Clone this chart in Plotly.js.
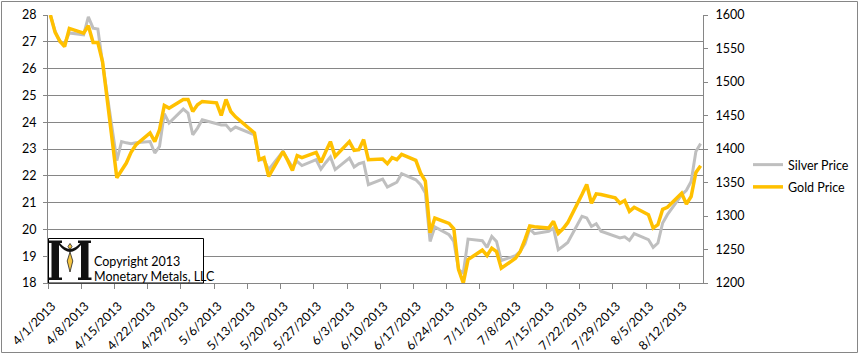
<!DOCTYPE html>
<html>
<head>
<meta charset="utf-8">
<script src="https://cdn.plot.ly/plotly-3.0.1.min.js"></script>
<style>
  html, body { margin: 0; padding: 0; background: #fff; }
  #chart { width: 860px; height: 355px; }
</style>
</head>
<body>
<div id="chart"></div>
<script>
// ---- Data ----
const dates = [
  "2013-04-01","2013-04-02","2013-04-03","2013-04-04","2013-04-05","2013-04-08","2013-04-09","2013-04-10","2013-04-11","2013-04-12",
  "2013-04-15","2013-04-16","2013-04-17","2013-04-18","2013-04-19","2013-04-22","2013-04-23","2013-04-24","2013-04-25","2013-04-26",
  "2013-04-29","2013-04-30",
  "2013-05-01","2013-05-02","2013-05-03","2013-05-06","2013-05-07","2013-05-08","2013-05-09","2013-05-10","2013-05-13","2013-05-14",
  "2013-05-15","2013-05-16","2013-05-17","2013-05-20","2013-05-21","2013-05-22","2013-05-23","2013-05-24","2013-05-27","2013-05-28",
  "2013-05-29","2013-05-30","2013-05-31",
  "2013-06-03","2013-06-04","2013-06-05","2013-06-06","2013-06-07","2013-06-10","2013-06-11","2013-06-12","2013-06-13","2013-06-14",
  "2013-06-17","2013-06-18","2013-06-19","2013-06-20","2013-06-21","2013-06-24","2013-06-25","2013-06-26","2013-06-27","2013-06-28",
  "2013-07-01","2013-07-02","2013-07-03","2013-07-04","2013-07-05","2013-07-08","2013-07-09","2013-07-10","2013-07-11","2013-07-12",
  "2013-07-15","2013-07-16","2013-07-17","2013-07-18","2013-07-19","2013-07-22","2013-07-23","2013-07-24","2013-07-25","2013-07-26",
  "2013-07-29","2013-07-30","2013-07-31",
  "2013-08-01","2013-08-02","2013-08-05","2013-08-06","2013-08-07","2013-08-08","2013-08-09","2013-08-12","2013-08-13","2013-08-14",
  "2013-08-15","2013-08-16"
];
const silverPrice = [
  28.0, 27.39, 27.0, 26.95, 27.33, 27.26, 27.93, 27.51, 27.48, 26.2,
  22.57, 23.28, 23.23, 23.2, 23.23, 23.28, 22.85, 23.1, 24.32, 23.97,
  24.49, 24.34,
  23.53, 23.78, 24.09, 23.94, 23.9, 23.9, 23.69, 23.82, 23.6, 23.53,
  22.6, 22.6, 22.23, 22.91, 22.6, 22.33, 22.54, 22.38, 22.6, 22.25,
  22.49, 22.7, 22.23,
  22.66, 22.33, 22.45, 22.5, 21.67, 21.88, 21.58, 21.67, 21.76, 22.08,
  21.85, 21.67, 21.36, 19.55, 20.09, 19.8, 19.55, 18.5, 18.37, 19.64,
  19.58, 19.33, 19.74, 19.55, 18.84, 19.02, 19.18, 19.47, 20.02, 19.84,
  19.93, 20.05, 19.24, 19.37, 19.51, 20.49, 20.43, 20.11, 20.21, 19.93,
  19.74, 19.68, 19.72,
  19.59, 19.84, 19.62, 19.33, 19.49, 20.24, 20.55, 21.29, 21.46, 21.79,
  22.91, 23.2
];
const goldPrice = [
  1600, 1574, 1561, 1553, 1580, 1573, 1584, 1559, 1559, 1530,
  1357, 1369, 1379, 1395, 1406, 1424, 1411, 1429, 1465, 1461,
  1474, 1474,
  1456, 1466, 1471, 1469, 1450, 1474, 1456, 1448, 1429, 1424,
  1384, 1387, 1359, 1396, 1383, 1368, 1390, 1387, 1395, 1380,
  1396, 1411, 1389,
  1411, 1398, 1399, 1414, 1384, 1385, 1378, 1387, 1384, 1392,
  1383, 1364, 1352, 1275, 1297, 1289, 1281, 1220, 1200, 1235,
  1249, 1241, 1252, 1247, 1222, 1237, 1247, 1265, 1285, 1284,
  1282, 1292, 1274, 1281, 1290, 1332, 1347, 1319, 1333, 1332,
  1327, 1319, 1323,
  1307, 1313, 1302, 1282, 1287, 1310, 1313, 1334, 1318, 1329,
  1365, 1375
];
const seriesNames = ["Silver Price", "Gold Price"];
const copyrightLines = ["Copyright 2013", "Monetary Metals, LLC"];

// ---- Layout helpers ----
const M = { l: 48, r: 157, t: 15, b: 72 };
const PW = 860 - M.l - M.r, PH = 355 - M.t - M.b;
const px = x => (x - M.l) / PW;
const py = y => (355 - M.b - y) / PH;
function path(pts) {
  return pts.map(p => {
    const c = p[0]; const nums = p.slice(1);
    const out = [];
    for (let i = 0; i < nums.length; i += 2) out.push(px(nums[i]).toFixed(5) + ',' + py(nums[i+1]).toFixed(5));
    return c + out.join(' ');
  }).join(' ') + ' Z';
}

const xMid = dates.map(d => d + ' 12:00');
const font = 'Lato, "Open Sans", "Liberation Sans", sans-serif';
const grey = '#868686';

const traces = [
  { x: xMid, y: silverPrice, name: seriesNames[0], type: 'scatter', mode: 'lines',
    line: { color: '#BFBFBF', width: 3 }, yaxis: 'y', legendgroup: 'a' },
  { x: xMid, y: goldPrice, name: seriesNames[1], type: 'scatter', mode: 'lines',
    line: { color: '#FFC000', width: 3.5 }, yaxis: 'y2', legendgroup: 'b' }
];

const blk = { type: 'path', xref: 'paper', yref: 'paper', layer: 'above', fillcolor: '#111', line: { width: 0 } };
const shapes = [
  { type: 'rect', xref: 'paper', yref: 'paper', x0: px(1.5), x1: px(857.5), y0: py(352.5), y1: py(1.5),
    line: { color: grey, width: 1 }, layer: 'below' },
  { type: 'rect', xref: 'paper', yref: 'paper', x0: px(48.5), x1: px(203.5), y0: py(283), y1: py(238.5),
    line: { color: '#000', width: 1 }, fillcolor: '#fff', layer: 'above' },
  Object.assign({}, blk, { path: path([['M',51.5,242],['L',59,242],['L',59,278],['L',51.5,278]]) }),
  Object.assign({}, blk, { path: path([['M',81,242],['L',88.5,242],['L',88.5,278],['L',81,278]]) }),
  Object.assign({}, blk, { path: path([['M',49,240.5],['L',62,240.5],['L',62,243],['L',49,243]]) }),
  Object.assign({}, blk, { path: path([['M',78,240.5],['L',91,240.5],['L',91,243],['L',78,243]]) }),
  Object.assign({}, blk, { path: path([['M',48.5,277.5],['L',62,277.5],['L',62,280],['L',48.5,280]]) }),
  Object.assign({}, blk, { path: path([['M',78,277.5],['L',91.5,277.5],['L',91.5,280],['L',78,280]]) }),
  Object.assign({}, blk, { path: path([['M',59,242],['Q',70,256,81,242],['L',81,245],['Q',70,259,59,245]]) }),
  { type: 'path', xref: 'paper', yref: 'paper', layer: 'above', fillcolor: '#F5C542', line: { color: '#222', width: 0.8 },
    path: path([['M',70,243.5],['L',72,246.5],['L',70,249.5],['L',68,246.5]]) },
  { type: 'path', xref: 'paper', yref: 'paper', layer: 'above', fillcolor: '#F5C542', line: { color: '#222', width: 0.8 },
    path: path([['M',70,252],['L',72.8,261],['L',70,272],['L',67.2,261]]) }
];

const annotations = [
  { xref: 'paper', yref: 'paper', x: px(92), y: py(261), xanchor: 'left', yanchor: 'middle', showarrow: false,
    text: copyrightLines[0], font: { family: font, size: 12.5, color: '#000' } },
  { xref: 'paper', yref: 'paper', x: px(92), y: py(276), xanchor: 'left', yanchor: 'middle', showarrow: false,
    text: copyrightLines[1], font: { family: font, size: 12.5, color: '#000' } }
];

const layout = {
  width: 860, height: 355,
  margin: M,
  paper_bgcolor: '#fff', plot_bgcolor: '#fff',
  font: { family: font, size: 12.5, color: '#000' },
  showlegend: true,
  legend: { xref: 'container', yref: 'container', x: 748 / 860, y: 1 - 150 / 355, xanchor: 'left', yanchor: 'top',
    bgcolor: 'rgba(0,0,0,0)', font: { family: font, size: 12.5, color: '#000' }, traceorder: 'grouped', tracegroupgap: 3 },
  xaxis: {
    type: 'date', range: ['2013-04-01', '2013-08-17'],
    tick0: '2013-04-01', dtick: 7 * 86400000, tickformat: '%-m/%-d/%Y', tickangle: -45,
    ticks: 'outside', ticklen: 5, tickcolor: grey, showgrid: false, showline: true, linecolor: grey, linewidth: 1,
    zeroline: false, automargin: false, ticklabelstandoff: 5, ticklabelshift: 4,
    tickfont: { family: font, size: 12.5, color: '#000' }
  },
  yaxis: {
    range: [18, 28], dtick: 1, ticks: 'outside', ticklen: 4, tickcolor: grey,
    showgrid: true, gridcolor: grey, gridwidth: 1, showline: true, linecolor: grey, zeroline: false,
    automargin: false, ticklabelstandoff: 4, tickfont: { family: font, size: 12.5, color: '#000' }
  },
  yaxis2: {
    range: [1200, 1600], dtick: 50, overlaying: 'y', side: 'right', ticks: 'outside', ticklen: 4, tickcolor: grey,
    showgrid: false, showline: true, linecolor: grey, zeroline: false,
    automargin: false, ticklabelstandoff: 5, tickfont: { family: font, size: 12.5, color: '#000' }
  },
  shapes: shapes,
  annotations: annotations
};

Plotly.newPlot('chart', traces, layout, { displayModeBar: false, staticPlot: true });
</script>
</body>
</html>
